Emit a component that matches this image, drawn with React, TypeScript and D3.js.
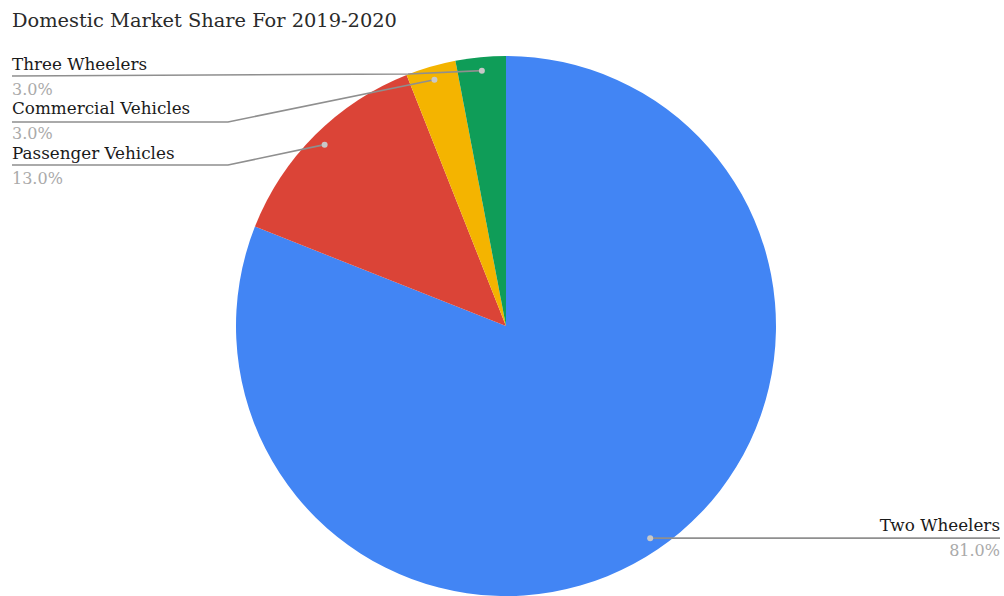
import React from "react";
import * as d3 from "d3";

const categories = ["Two Wheelers", "Passenger Vehicles", "Commercial Vehicles", "Three Wheelers"];
const shares = [81, 13, 3, 3];
const colors = ["#4285F4", "#DB4437", "#F4B400", "#0F9D58"];
const title = "Domestic Market Share For 2019-2020";

// label layout: side, text baseline y, leader line y, elbow
const labelLayout: Record<string, { side: "left" | "right"; y: number; lineY: number; elbowX: number; elbowY: number }> = {
  "Three Wheelers": { side: "left", y: 70, lineY: 76, elbowX: 408, elbowY: 74 },
  "Commercial Vehicles": { side: "left", y: 114, lineY: 122, elbowX: 228, elbowY: 122 },
  "Passenger Vehicles": { side: "left", y: 159, lineY: 165, elbowX: 228, elbowY: 165 },
  "Two Wheelers": { side: "right", y: 533, lineY: 540, elbowX: 1000, elbowY: 540 },
};

const W = 1004;
const H = 596;
const cx = 506;
const cy = 326;
const R = 270;
const FONT = "'DejaVu Serif', Georgia, serif";

export default function App() {
  const data = categories.map((c, i) => ({ name: c, value: shares[i], color: colors[i] }));
  const pie = d3.pie<any>().sort(null).value((d: any) => d.value).startAngle(0).endAngle(2 * Math.PI);
  const arcs = pie(data);
  const arc = d3.arc<any>().innerRadius(0).outerRadius(R);
  const dotArc = d3.arc<any>().innerRadius(R * 0.95).outerRadius(R * 0.95);
  const total = d3.sum(shares);

  return (
    <svg width={W} height={H} style={{ position: "absolute", left: 0, top: 0, background: "#fff" }}>
      <text x={12} y={27} fontFamily={FONT} fontSize={19.4} fill="#2a2a2a">{title}</text>
      <g transform={`translate(${cx},${cy})`}>
        {arcs.map((a, i) => (
          <path key={i} d={arc(a) || ""} fill={a.data.color} />
        ))}
      </g>
      {arcs.map((a, i) => {
        const [dx, dy] = dotArc.centroid(a);
        const px = cx + dx;
        const py = cy + dy;
        const L = labelLayout[a.data.name];
        const pct = d3.format(".1f")((a.data.value / total) * 100) + "%";
        const startX = L.side === "left" ? 12 : 1000;
        const lineY = L.side === "left" ? L.lineY : py;
        const textY = L.side === "left" ? L.y : py - 7;
        const pts = L.side === "left"
          ? `${startX},${lineY} ${L.elbowX},${L.elbowY} ${px},${py}`
          : `${startX},${lineY} ${px},${py}`;
        const anchor = L.side === "left" ? "start" : "end";
        return (
          <g key={"l" + i}>
            <polyline points={pts} fill="none" stroke="#8f8f8f" strokeWidth={1.6} />
            <circle cx={px} cy={py} r={3} fill="#c8c8c8" />
            <text x={startX} y={textY} textAnchor={anchor} fontFamily={FONT} fontSize={16.8} fill="#1a1a1a">{a.data.name}</text>
            <text x={startX} y={textY + 25} textAnchor={anchor} fontFamily={FONT} fontSize={16} fill="#aaa">{pct}</text>
          </g>
        );
      })}
    </svg>
  );
}
